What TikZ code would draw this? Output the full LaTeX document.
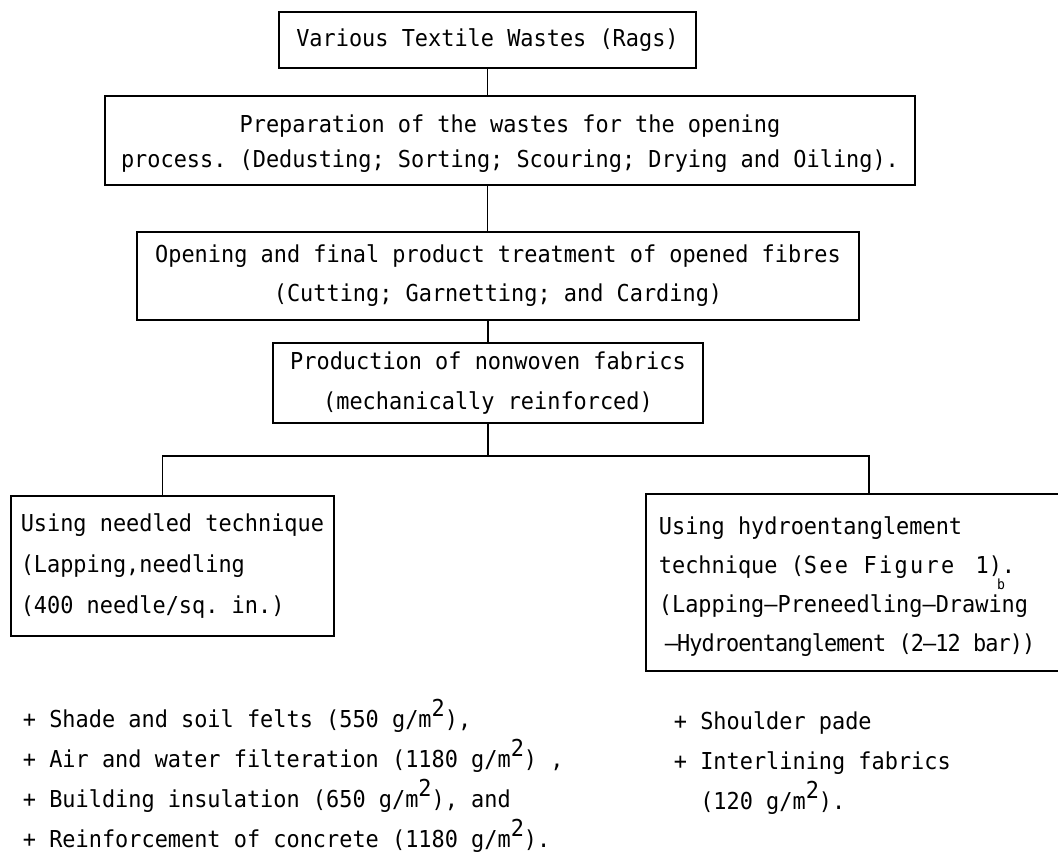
\documentclass[tikz,border=0pt]{standalone}
\usepackage{fontspec}
\newfontfamily\typer{DejaVu Sans Mono}[FakeStretch=0.94, WordSpace={1,0,0}]
\usepackage{tikz}
\usetikzlibrary{positioning}

\newcommand{\sqm}{\raisebox{0.45em}{2}}
\frenchspacing

\begin{document}
\begin{tikzpicture}[x=1pt, y=-1pt, line width=1.8pt,
  typed/.style={font={\typer\fontsize{23.3}{#1}\selectfont}},
  stage/.style={draw, inner sep=0pt, align=center},
  listline/.style={anchor=base west, inner sep=0pt, typed=40}]
  \useasboundingbox (0,0) rectangle (1058,857);

  % Process chain
  \node[stage, typed=39, minimum width=417pt, minimum height=56pt] (rags) at (487.5,40) {Various Textile Wastes (Rags)};
  \node[stage, typed=35, minimum width=810pt, minimum height=89pt] (prep) at (510,140.5)
    {\rule{0pt}{23.6pt}Preparation of the wastes for the opening\\process. (Dedusting; Sorting; Scouring; Drying and Oiling).};
  \node[stage, typed=39, minimum width=722pt, minimum height=88pt] (open) at (498,276)
    {Opening and final product treatment of opened fibres\\(Cutting; Garnetting; and Carding)};
  \node[stage, typed=40, minimum width=430pt, minimum height=80pt] (prod) at (488,383)
    {Production of nonwoven fabrics\\(mechanically reinforced)};

  % Two techniques
  \node[stage, typed=41, align=left, anchor=north west, minimum width=323pt, minimum height=140pt] (needle) at (10,495)
    {Using needled technique\\(Lapping,needling\\(400 needle/sq. in.)};
  \node[stage, typed=39, align=left, anchor=north west, inner xsep=13pt, minimum height=177pt] (hydro) at (645,493)
    {\rule{0pt}{26pt}Using hydroentanglement\\technique ({\addfontfeature{LetterSpace=10}See Figure}\hspace{8pt} 1).\\(Lapping—Preneedling—Drawing\\
     \makebox[420pt][l]{\hspace{6pt}{\addfontfeature{LetterSpace=-4}—Hydroentanglement (2—12 bar))}}};
  \node[inner sep=0pt, font={\typer\fontsize{14}{14}\selectfont}] (mark) at (1001,584) {b};

  % Connectors
  \coordinate (fork) at (488,456);
  \draw (rags.south) -- (rags.south |- prep.north);
  \draw (prep.south -| rags.south) -- (open.north -| rags.south);
  \draw (open.south -| prod.north) -- (prod.north);
  \draw (prod.south) -- (fork);
  \draw ([xshift=-10pt]needle.north) |- (fork -| hydro.north) -- (hydro.north);

  % Uses
  \foreach \txt [count=\i] in {{+ Shade and soil felts (550 g/m\sqm),},
      {+ Air and water filteration (1180 g/m\sqm) ,},
      {+ Building insulation (650 g/m\sqm), and},
      {+ Reinforcement of concrete (1180 g/m\sqm).}}
    \node[listline] (leftuse\i) at (22, 687+40*\i) {\txt};
  \foreach \txt [count=\i] in {{+ Shoulder pade}, {+ Interlining fabrics}, {\phantom{+ }(120 g/m\sqm).}}
    \node[listline] (rightuse\i) at (673, 689+40*\i) {\txt};
\end{tikzpicture}
\end{document}
